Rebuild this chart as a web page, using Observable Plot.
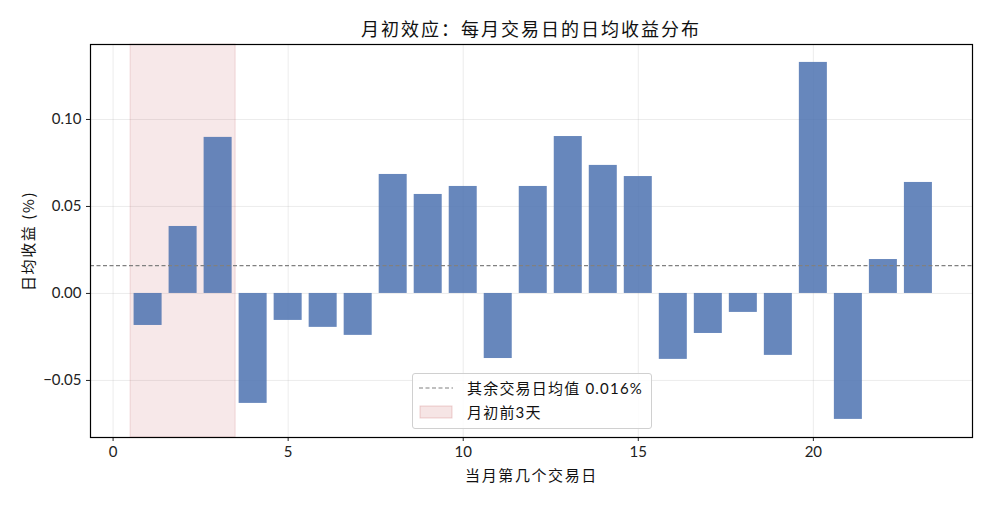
<!DOCTYPE html>
<html>
<head>
<meta charset="utf-8">
<script src="https://cdn.jsdelivr.net/npm/d3@7"></script>
<script src="https://cdn.jsdelivr.net/npm/@observablehq/plot@0.6"></script>
<style>
  html, body { margin: 0; padding: 0; background: #fff; }
  #wrap { position: relative; width: 990px; height: 505px; font-family: "Lato", "Noto Sans CJK SC", sans-serif; }
  #title { position: absolute; top: 15px; left: 90px; width: 882px; text-align: center; font-size: 18px; letter-spacing: 2px; color: #111; font-family: "Noto Sans CJK SC", sans-serif; font-weight: 400; }
  #legend { position: absolute; left: 412px; top: 373px; width: 238px; height: 54px; background: rgba(255,255,255,0.85); border: 1px solid #d0d0d0; border-radius: 3px; font-size: 15px; color: #111; }
  .row { position: absolute; left: 6px; display: flex; align-items: center; white-space: nowrap; }
  .row span { margin-left: 14px; letter-spacing: 1.2px; font-family: "Lato", "Noto Sans CJK SC", sans-serif; }
</style>
</head>
<body>
<div id="wrap">
  <div id="title">月初效应：每月交易日的日均收益分布</div>
  <div id="chart"></div>
  <div id="legend">
    <div class="row" style="top:3px"><svg width="34" height="20"><line x1="0" y1="10" x2="34" y2="10" stroke="#808080" stroke-width="1.2" stroke-dasharray="4,2.5"></line></svg><span id="meanLabel"></span></div>
    <div class="row" style="top:27px"><svg width="34" height="20"><rect x="1" y="4" width="32" height="12" fill="rgba(196,78,82,0.15)" stroke="rgba(196,78,82,0.25)"></rect></svg><span>月初前3天</span></div>
  </div>
</div>
<script>
// Trading day of the month
const days = [1, 2, 3, 4, 5, 6, 7, 8, 9, 10, 11, 12, 13, 14, 15, 16, 17, 18, 19, 20, 21, 22, 23];
// Mean daily return (%) for each trading day
const returns = [-0.0184, 0.0385, 0.0897, -0.0632, -0.0155, -0.0195, -0.0241, 0.0684, 0.0569, 0.0615,
                 -0.0374, 0.0615, 0.0902, 0.0736, 0.0672, -0.0379, -0.0230, -0.0109, -0.0356, 0.1328,
                 -0.0724, 0.0195, 0.0638];
// Mean of the remaining trading days (%)
const otherMean = 0.016;
// Highlighted first days of the month
const spanStart = 0.5, spanEnd = 3.5;
const xTicks = [0, 5, 10, 15, 20];
const yTicks = [-0.05, 0, 0.05, 0.10];

document.getElementById("meanLabel").textContent = `其余交易日均值 ${otherMean.toFixed(3)}%`;

const data = days.map((d, i) => ({day: d, ret: returns[i]}));

const chart = Plot.plot({
  width: 990,
  height: 505,
  marginLeft: 90,
  marginRight: 18,
  marginTop: 44,
  marginBottom: 68,
  style: {fontFamily: "Lato, 'Noto Sans CJK SC', sans-serif", fontSize: "15px", color: "#222"},
  x: {domain: [-0.645, 24.545], ticks: xTicks, tickFormat: d3.format("d"), label: null},
  y: {domain: [-0.0828, 0.1431], ticks: yTicks, tickFormat: d3.format(".2f"), label: null},
  marks: [
    Plot.gridX(xTicks, {stroke: "#b0b0b0", strokeOpacity: 0.3, strokeWidth: 0.8}),
    Plot.gridY(yTicks, {stroke: "#b0b0b0", strokeOpacity: 0.3, strokeWidth: 0.8}),
    Plot.rect([{x1: spanStart, x2: spanEnd}], {x1: "x1", x2: "x2", y1: -0.0828, y2: 0.1431, fill: "#C44E52", fillOpacity: 0.13, stroke: "#C44E52", strokeOpacity: 0.18}),
    Plot.rectY(data, {x1: d => d.day - 0.4, x2: d => d.day + 0.4, y: "ret", fill: "#4C72B0", fillOpacity: 0.85}),
    Plot.ruleY([otherMean], {stroke: "#808080", strokeWidth: 1.1, strokeDasharray: "4,2.5"}),
    Plot.axisX(xTicks, {tickSize: 4, tickPadding: 5, fontSize: 15, label: null, stroke: "#222"}),
    Plot.axisY(yTicks, {tickSize: 4, tickPadding: 5, fontSize: 15, label: null, stroke: "#222"}),
    Plot.frame({stroke: "#000", strokeWidth: 1.2}),
    Plot.text(["当月第几个交易日"], {frameAnchor: "bottom", dy: 43, fontSize: 15, fill: "#111", fontFamily: "Noto Sans CJK SC", style: "letter-spacing: 2px"}),
    Plot.text(["日均收益 (%)"], {frameAnchor: "left", textAnchor: "middle", dx: -61, rotate: -90, fontSize: 15, fill: "#111", fontFamily: "Noto Sans CJK SC, Lato"})
  ]
});
// widen CJK axis titles slightly to match the wider glyph advance
chart.querySelectorAll("text").forEach(t => {
  if (/[\u4e00-\u9fff]/.test(t.textContent)) t.setAttribute("letter-spacing", "1.6");
});
document.getElementById("chart").appendChild(chart);
</script>
</body>
</html>
